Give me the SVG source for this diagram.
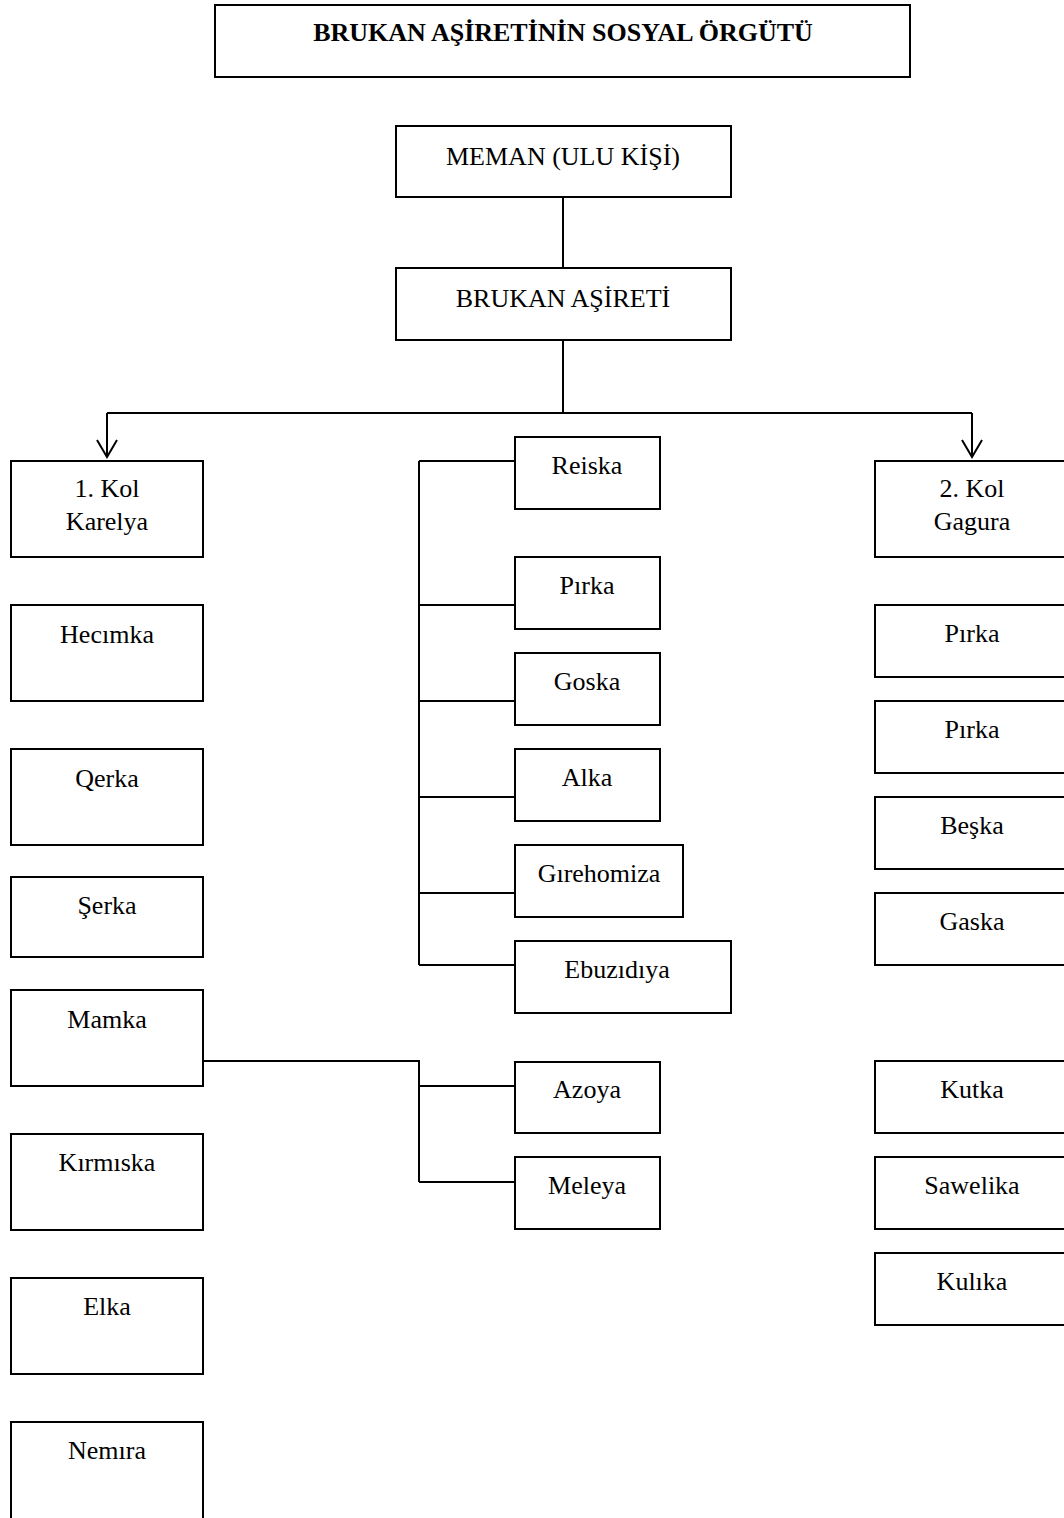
<svg xmlns="http://www.w3.org/2000/svg" width="1064" height="1518" viewBox="0 0 1064 1518">
<defs>
<style>
.b{fill:#fff;stroke:#000;stroke-width:2}
.t{font-family:"Liberation Serif","Times New Roman",serif;font-size:26px;fill:#000;text-anchor:middle}
.c{fill:none;stroke:#000;stroke-width:2}
</style>
</defs>
<rect width="1064" height="1518" fill="#fff"/>
<g id="title"><rect class="b" x="215" y="5" width="695" height="72"/><text class="t" x="563" y="41" font-weight="bold" font-size="27">BRUKAN AŞİRETİNİN SOSYAL ÖRGÜTÜ</text></g>
<g id="connectors">
<path class="c" d="M563,197 V268"/>
<path class="c" d="M563,340 V413"/>
<path class="c" d="M107,413 H972"/>
<path class="c" d="M107,413 V457"/>
<path class="c" d="M972,413 V457"/>
<path class="c" d="M97,440 L107,457 L117,440"/>
<path class="c" d="M962,440 L972,457 L982,440"/>
<path class="c" d="M419,461 V965"/>
<path class="c" d="M419,461 H515 M419,605 H515 M419,701 H515 M419,797 H515 M419,893 H515 M419,965 H515"/>
<path class="c" d="M203,1061 H419 V1182 M419,1086 H515 M419,1182 H515"/>
</g>
<g id="meman"><rect class="b" x="396" y="126" width="335" height="71"/><text class="t" x="563" y="165">MEMAN (ULU KİŞİ)</text></g>
<g id="brukan"><rect class="b" x="396" y="268" width="335" height="72"/><text class="t" x="563" y="307">BRUKAN AŞİRETİ</text></g>
<g id="kol1"><rect class="b" x="11" y="461" width="192" height="96"/><text class="t" x="107" y="497">1. Kol</text><text class="t" x="107" y="530">Karelya</text></g>
<g id="hecimka"><rect class="b" x="11" y="605" width="192" height="96"/><text class="t" x="107" y="643">Hecımka</text></g>
<g id="qerka"><rect class="b" x="11" y="749" width="192" height="96"/><text class="t" x="107" y="787">Qerka</text></g>
<g id="serka"><rect class="b" x="11" y="877" width="192" height="80"/><text class="t" x="107" y="914">Şerka</text></g>
<g id="mamka"><rect class="b" x="11" y="990" width="192" height="96"/><text class="t" x="107" y="1028">Mamka</text></g>
<g id="kirmiska"><rect class="b" x="11" y="1134" width="192" height="96"/><text class="t" x="107" y="1171">Kırmıska</text></g>
<g id="elka"><rect class="b" x="11" y="1278" width="192" height="96"/><text class="t" x="107" y="1315">Elka</text></g>
<g id="nemira"><rect class="b" x="11" y="1422" width="192" height="100"/><text class="t" x="107" y="1459">Nemıra</text></g>
<g id="reiska"><rect class="b" x="515" y="437" width="145" height="72"/><text class="t" x="587" y="474">Reiska</text></g>
<g id="pirka-m"><rect class="b" x="515" y="557" width="145" height="72"/><text class="t" x="587" y="594">Pırka</text></g>
<g id="goska"><rect class="b" x="515" y="653" width="145" height="72"/><text class="t" x="587" y="690">Goska</text></g>
<g id="alka"><rect class="b" x="515" y="749" width="145" height="72"/><text class="t" x="587" y="786">Alka</text></g>
<g id="girehomiza"><rect class="b" x="515" y="845" width="168" height="72"/><text class="t" x="599" y="882">Gırehomiza</text></g>
<g id="ebuzidiya"><rect class="b" x="515" y="941" width="216" height="72"/><text class="t" x="617" y="978">Ebuzıdıya</text></g>
<g id="azoya"><rect class="b" x="515" y="1062" width="145" height="71"/><text class="t" x="587" y="1098">Azoya</text></g>
<g id="meleya"><rect class="b" x="515" y="1157" width="145" height="72"/><text class="t" x="587" y="1194">Meleya</text></g>
<g id="kol2"><rect class="b" x="875" y="461" width="200" height="96"/><text class="t" x="972" y="497">2. Kol</text><text class="t" x="972" y="530">Gagura</text></g>
<g id="pirka-r1"><rect class="b" x="875" y="605" width="200" height="72"/><text class="t" x="972" y="642">Pırka</text></g>
<g id="pirka-r2"><rect class="b" x="875" y="701" width="200" height="72"/><text class="t" x="972" y="738">Pırka</text></g>
<g id="beska"><rect class="b" x="875" y="797" width="200" height="72"/><text class="t" x="972" y="834">Beşka</text></g>
<g id="gaska"><rect class="b" x="875" y="893" width="200" height="72"/><text class="t" x="972" y="930">Gaska</text></g>
<g id="kutka"><rect class="b" x="875" y="1061" width="200" height="72"/><text class="t" x="972" y="1098">Kutka</text></g>
<g id="sawelika"><rect class="b" x="875" y="1157" width="200" height="72"/><text class="t" x="972" y="1194">Sawelika</text></g>
<g id="kulika"><rect class="b" x="875" y="1253" width="200" height="72"/><text class="t" x="972" y="1290">Kulıka</text></g>
</svg>
